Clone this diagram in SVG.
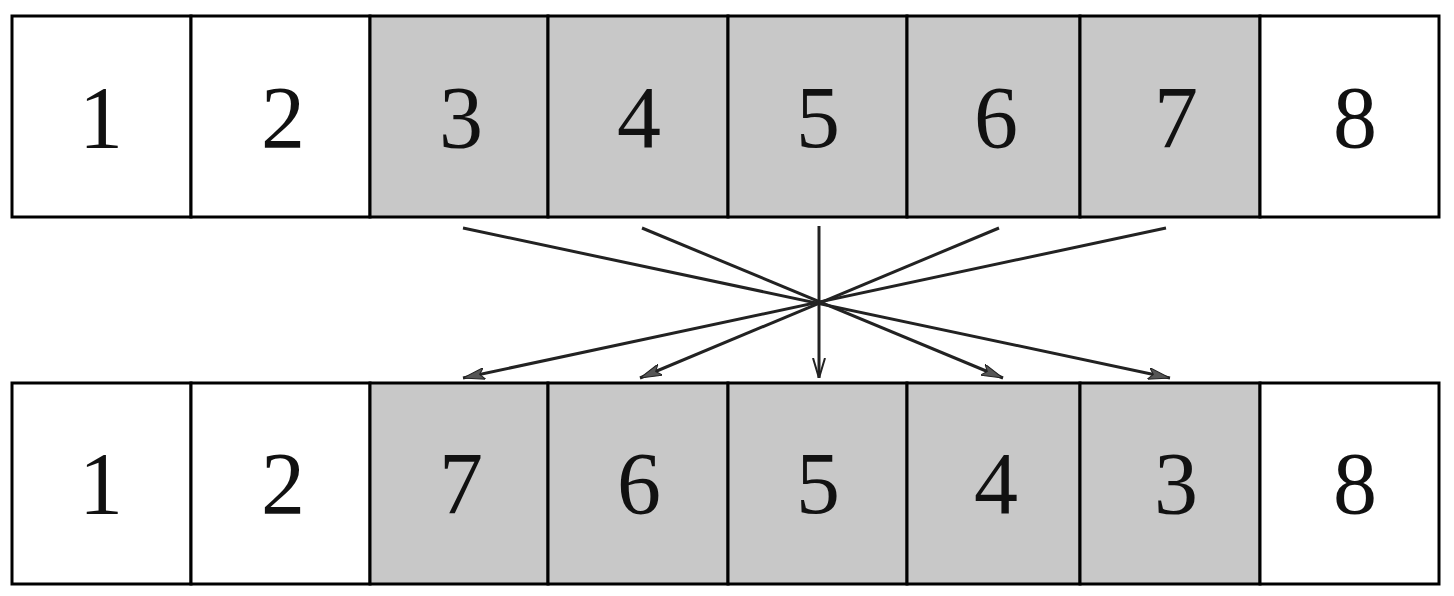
<svg xmlns="http://www.w3.org/2000/svg" width="1454" height="596" viewBox="0 0 1454 596">
<style>
.w{fill:#fff;stroke:#000;stroke-width:3}
.g{fill:#c8c8c8;stroke:#000;stroke-width:3}
.t{font-family:"Liberation Serif","Times New Roman",serif;font-size:88px;fill:#111;text-anchor:middle}
.c{stroke:#222;stroke-width:3;fill:none}
</style>
<defs>
<marker id="ah" viewBox="0 0 22 12" refX="22" refY="6" markerWidth="22" markerHeight="12" markerUnits="userSpaceOnUse" orient="auto">
<path d="M0,0 L22,6 L0,12 L5,6 Z" fill="#555" stroke="#222" stroke-width="1"/>
</marker>
<marker id="av" viewBox="0 0 20 14" refX="20" refY="7" markerWidth="20" markerHeight="14" markerUnits="userSpaceOnUse" orient="auto">
<path d="M0,1 L20,7 L0,13" fill="none" stroke="#222" stroke-width="2"/>
</marker>
</defs>
<g id="top">
<g id="t1"><rect class="w" x="12" y="16" width="179" height="201"/><text class="t" x="101" y="147">1</text></g>
<g id="t2"><rect class="w" x="191" y="16" width="179" height="201"/><text class="t" x="283" y="147">2</text></g>
<g id="t3"><rect class="g" x="370" y="16" width="178" height="201"/><text class="t" x="461" y="147">3</text></g>
<g id="t4"><rect class="g" x="548" y="16" width="180" height="201"/><text class="t" x="639" y="147">4</text></g>
<g id="t5"><rect class="g" x="728" y="16" width="179" height="201"/><text class="t" x="818" y="147">5</text></g>
<g id="t6"><rect class="g" x="907" y="16" width="173" height="201"/><text class="t" x="996" y="147">6</text></g>
<g id="t7"><rect class="g" x="1080" y="16" width="180" height="201"/><text class="t" x="1176" y="147">7</text></g>
<g id="t8"><rect class="w" x="1260" y="16" width="179" height="201"/><text class="t" x="1355" y="147">8</text></g>
</g>
<g id="bottom">
<g id="b1"><rect class="w" x="12" y="383" width="179" height="201"/><text class="t" x="101" y="513">1</text></g>
<g id="b2"><rect class="w" x="191" y="383" width="179" height="201"/><text class="t" x="283" y="513">2</text></g>
<g id="b3"><rect class="g" x="370" y="383" width="178" height="201"/><text class="t" x="461" y="513">7</text></g>
<g id="b4"><rect class="g" x="548" y="383" width="180" height="201"/><text class="t" x="639" y="513">6</text></g>
<g id="b5"><rect class="g" x="728" y="383" width="179" height="201"/><text class="t" x="818" y="513">5</text></g>
<g id="b6"><rect class="g" x="907" y="383" width="173" height="201"/><text class="t" x="996" y="513">4</text></g>
<g id="b7"><rect class="g" x="1080" y="383" width="180" height="201"/><text class="t" x="1176" y="513">3</text></g>
<g id="b8"><rect class="w" x="1260" y="383" width="179" height="201"/><text class="t" x="1355" y="513">8</text></g>
</g>
<g id="connectors">
<line class="c" x1="463" y1="228" x2="1170" y2="378" marker-end="url(#ah)"/>
<line class="c" x1="642" y1="228" x2="1003" y2="378" marker-end="url(#ah)"/>
<line class="c" x1="819" y1="226" x2="819" y2="378" marker-end="url(#av)"/>
<line class="c" x1="999" y1="228" x2="640" y2="378" marker-end="url(#ah)"/>
<line class="c" x1="1166" y1="228" x2="463" y2="378" marker-end="url(#ah)"/>
</g>
</svg>
